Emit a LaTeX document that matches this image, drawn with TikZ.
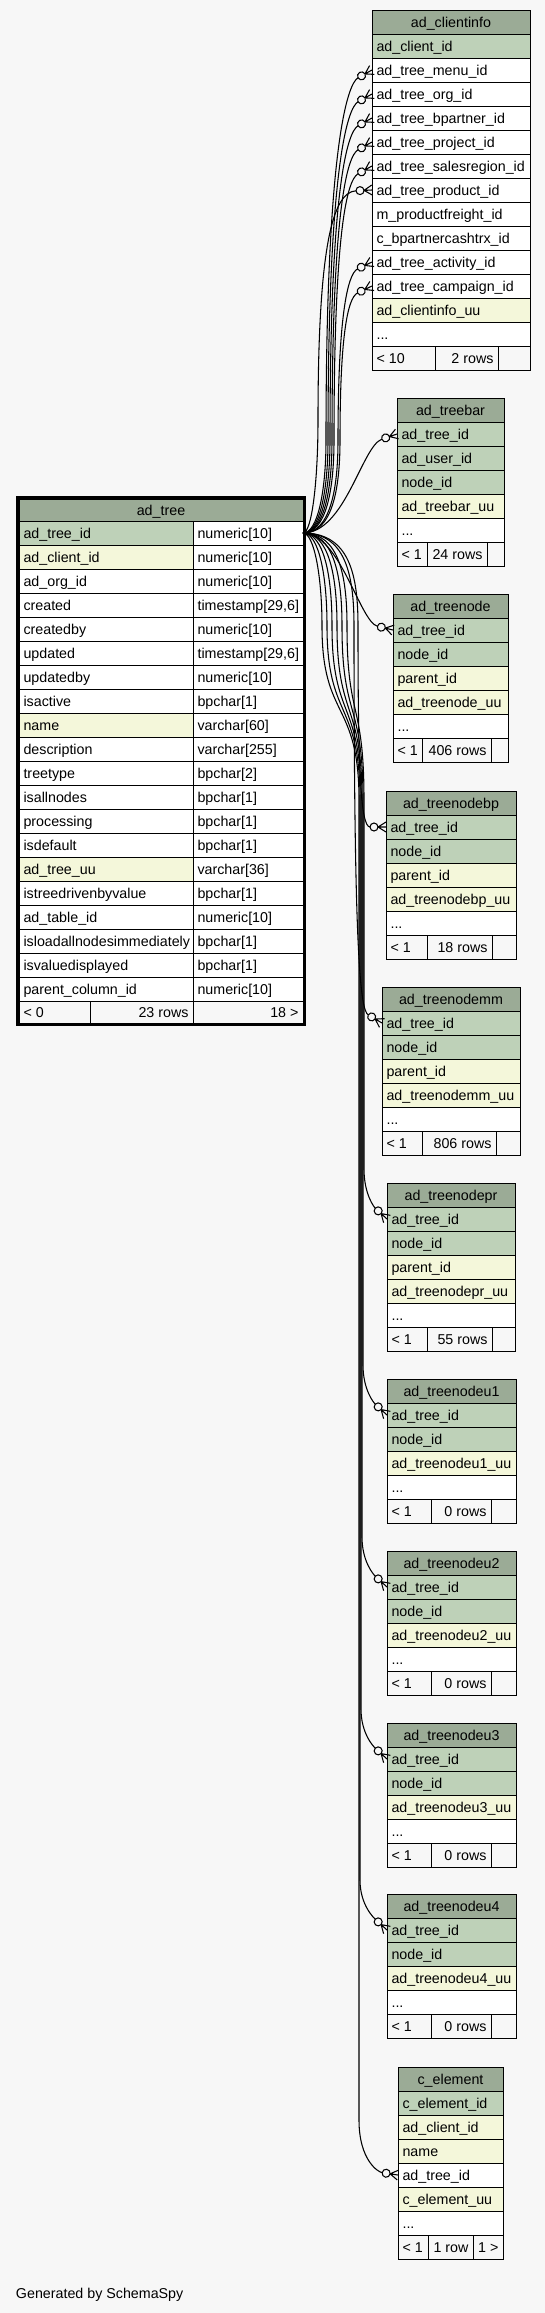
\documentclass[tikz,border=0pt]{standalone}
\usepackage{fontspec}
\setmainfont{Liberation Sans}
\usetikzlibrary{arrows.meta}
\definecolor{bg}{HTML}{F7F7F7}
\definecolor{hdr}{HTML}{9BAB96}
\definecolor{pk}{HTML}{BED1B8}
\definecolor{idx}{HTML}{F4F7DA}
\definecolor{ftr}{HTML}{F7F7F7}
\newcommand\tfont{\fontsize{10.7pt}{12.8pt}\selectfont}
\def\tshwest{3.4pt}\def\tsheast{-3.4pt}\def\tshcenter{0pt}
\pgfdeclarearrow{
  name = CrowODot,
  setup code = {
    \pgfarrowssettipend{0pt}
    \pgfarrowssetlineend{-12pt}
    \pgfarrowssetbackend{-12pt}
    \pgfarrowssetvisualbackend{-12pt}
  },
  drawing code = {
    \pgfsetdash{}{0pt}
    \pgfpathmoveto{\pgfpoint{-6pt}{0pt}}
    \pgfpathlineto{\pgfpoint{0pt}{3.75pt}}
    \pgfpathmoveto{\pgfpoint{-6pt}{0pt}}
    \pgfpathlineto{\pgfpoint{0pt}{0pt}}
    \pgfpathmoveto{\pgfpoint{-6pt}{0pt}}
    \pgfpathlineto{\pgfpoint{0pt}{-3.75pt}}
    \pgfusepathqstroke
    \pgfpathcircle{\pgfpoint{-9pt}{0pt}}{3pt}
    \pgfsetfillcolor{bg}
    \pgfusepathqfillstroke
  },
}
\tikzset{
  cellbox/.style={rectangle, draw=black, line width=0.75pt, inner sep=0pt, outer sep=0pt},
  celltext/.style={font=\tfont, inner sep=0pt, outer sep=0pt, text height=8pt, text depth=0pt, text=black},
  fk/.style={draw=black, line width=0.8pt, -{CrowODot}},
}
\newcommand\tc[8]{%
  \node[cellbox, fill=#6, minimum width={(#4-#2)*0.75pt}, minimum height={(#5-#3)*0.75pt}] (#1) at ({(#2+#4)/2},{(#3+#5)/2}) {};%
  \node[celltext, anchor=#7] (#1-t) at ([xshift=\csname tsh#7\endcsname]#1.#7) {#8};%
}
\newcommand\crow[6]{\tc{#1}{#2}{#4}{#3}{#4+24}{#5}{west}{#6}}
\newcommand\trow[5]{\crow{#1}{19}{193}{#2}{#3}{#4}\crow{#1-ty}{193}{303}{#2}{white}{#5}}
\begin{document}
\begin{tikzpicture}[x=0.75pt,y=-0.75pt]
\fill[bg] (0,0) rectangle (545,2313);
\useasboundingbox (0,0) rectangle (545,2313);

% ---------------- ad_tree
\tc{t-h}{19}{499}{303}{521}{hdr}{center}{ad\_tree}
\trow{t-id}{521}{pk}{ad\_tree\_id}{numeric[10]}
\trow{t-client}{545}{idx}{ad\_client\_id}{numeric[10]}
\trow{t-org}{569}{white}{ad\_org\_id}{numeric[10]}
\trow{t-created}{593}{white}{created}{timestamp[29,6]}
\trow{t-createdby}{617}{white}{createdby}{numeric[10]}
\trow{t-updated}{641}{white}{updated}{timestamp[29,6]}
\trow{t-updatedby}{665}{white}{updatedby}{numeric[10]}
\trow{t-isactive}{689}{white}{isactive}{bpchar[1]}
\trow{t-name}{713}{idx}{name}{varchar[60]}
\trow{t-desc}{737}{white}{description}{varchar[255]}
\trow{t-type}{761}{white}{treetype}{bpchar[2]}
\trow{t-all}{785}{white}{isallnodes}{bpchar[1]}
\trow{t-proc}{809}{white}{processing}{bpchar[1]}
\trow{t-def}{833}{white}{isdefault}{bpchar[1]}
\trow{t-uu}{857}{idx}{ad\_tree\_uu}{varchar[36]}
\trow{t-drv}{881}{white}{istreedrivenbyvalue}{bpchar[1]}
\trow{t-table}{905}{white}{ad\_table\_id}{numeric[10]}
\trow{t-load}{929}{white}{isloadallnodesimmediately}{bpchar[1]}
\trow{t-disp}{953}{white}{isvaluedisplayed}{bpchar[1]}
\trow{t-pcol}{977}{white}{parent\_column\_id}{numeric[10]}
\tc{t-f1}{19}{1001}{90}{1023}{ftr}{west}{< 0}
\tc{t-f2}{90}{1001}{193}{1023}{ftr}{east}{23 rows}
\tc{t-f3}{193}{1001}{303}{1023}{ftr}{east}{18 >}
\draw[line width=2.25pt] (17.5,497.5) rectangle (304.5,1024.5);

% ---------------- ad_clientinfo
\tc{ci-h}{372}{10}{530}{34}{hdr}{center}{ad\_clientinfo}
\crow{ci-client}{372}{530}{34}{pk}{ad\_client\_id}
\crow{ci-menu}{372}{530}{58}{white}{ad\_tree\_menu\_id}
\crow{ci-org}{372}{530}{82}{white}{ad\_tree\_org\_id}
\crow{ci-bp}{372}{530}{106}{white}{ad\_tree\_bpartner\_id}
\crow{ci-proj}{372}{530}{130}{white}{ad\_tree\_project\_id}
\crow{ci-sr}{372}{530}{154}{white}{ad\_tree\_salesregion\_id}
\crow{ci-prod}{372}{530}{178}{white}{ad\_tree\_product\_id}
\crow{ci-mpf}{372}{530}{202}{white}{m\_productfreight\_id}
\crow{ci-cbp}{372}{530}{226}{white}{c\_bpartnercashtrx\_id}
\crow{ci-act}{372}{530}{250}{white}{ad\_tree\_activity\_id}
\crow{ci-camp}{372}{530}{274}{white}{ad\_tree\_campaign\_id}
\crow{ci-uu}{372}{530}{298}{idx}{ad\_clientinfo\_uu}
\crow{ci-dots}{372}{530}{322}{white}{...}
\tc{ci-f1}{372}{346}{435}{370}{ftr}{west}{< 10}
\tc{ci-f2}{435}{346}{498}{370}{ftr}{east}{2 rows}
\tc{ci-f3}{498}{346}{530}{370}{ftr}{west}{}

% ---------------- ad_treebar
\tc{tb-h}{397}{398}{504}{422}{hdr}{center}{ad\_treebar}
\crow{tb-id}{397}{504}{422}{pk}{ad\_tree\_id}
\crow{tb-user}{397}{504}{446}{pk}{ad\_user\_id}
\crow{tb-node}{397}{504}{470}{pk}{node\_id}
\crow{tb-uu}{397}{504}{494}{idx}{ad\_treebar\_uu}
\crow{tb-dots}{397}{504}{518}{white}{...}
\tc{tb-f1}{397}{542}{427}{566}{ftr}{west}{< 1}
\tc{tb-f2}{427}{542}{487}{566}{ftr}{east}{24 rows}
\tc{tb-f3}{487}{542}{504}{566}{ftr}{west}{}

% ---------------- ad_treenode
\tc{tn-h}{393}{594}{508}{618}{hdr}{center}{ad\_treenode}
\crow{tn-id}{393}{508}{618}{pk}{ad\_tree\_id}
\crow{tn-node}{393}{508}{642}{pk}{node\_id}
\crow{tn-par}{393}{508}{666}{idx}{parent\_id}
\crow{tn-uu}{393}{508}{690}{idx}{ad\_treenode\_uu}
\crow{tn-dots}{393}{508}{714}{white}{...}
\tc{tn-f1}{393}{738}{422}{762}{ftr}{west}{< 1}
\tc{tn-f2}{422}{738}{491}{762}{ftr}{east}{406 rows}
\tc{tn-f3}{491}{738}{508}{762}{ftr}{west}{}

% ---------------- ad_treenodebp
\tc{bp-h}{386}{791}{516}{815}{hdr}{center}{ad\_treenodebp}
\crow{bp-id}{386}{516}{815}{pk}{ad\_tree\_id}
\crow{bp-node}{386}{516}{839}{pk}{node\_id}
\crow{bp-par}{386}{516}{863}{idx}{parent\_id}
\crow{bp-uu}{386}{516}{887}{idx}{ad\_treenodebp\_uu}
\crow{bp-dots}{386}{516}{911}{white}{...}
\tc{bp-f1}{386}{935}{427}{959}{ftr}{west}{< 1}
\tc{bp-f2}{427}{935}{492}{959}{ftr}{east}{18 rows}
\tc{bp-f3}{492}{935}{516}{959}{ftr}{west}{}

% ---------------- ad_treenodemm
\tc{mm-h}{382}{987}{520}{1011}{hdr}{center}{ad\_treenodemm}
\crow{mm-id}{382}{520}{1011}{pk}{ad\_tree\_id}
\crow{mm-node}{382}{520}{1035}{pk}{node\_id}
\crow{mm-par}{382}{520}{1059}{idx}{parent\_id}
\crow{mm-uu}{382}{520}{1083}{idx}{ad\_treenodemm\_uu}
\crow{mm-dots}{382}{520}{1107}{white}{...}
\tc{mm-f1}{382}{1131}{422}{1155}{ftr}{west}{< 1}
\tc{mm-f2}{422}{1131}{496}{1155}{ftr}{east}{806 rows}
\tc{mm-f3}{496}{1131}{520}{1155}{ftr}{west}{}

% ---------------- ad_treenodepr
\tc{pr-h}{387}{1183}{515}{1207}{hdr}{center}{ad\_treenodepr}
\crow{pr-id}{387}{515}{1207}{pk}{ad\_tree\_id}
\crow{pr-node}{387}{515}{1231}{pk}{node\_id}
\crow{pr-par}{387}{515}{1255}{idx}{parent\_id}
\crow{pr-uu}{387}{515}{1279}{idx}{ad\_treenodepr\_uu}
\crow{pr-dots}{387}{515}{1303}{white}{...}
\tc{pr-f1}{387}{1327}{427}{1351}{ftr}{west}{< 1}
\tc{pr-f2}{427}{1327}{492}{1351}{ftr}{east}{55 rows}
\tc{pr-f3}{492}{1327}{515}{1351}{ftr}{west}{}

% ---------------- ad_treenodeu1
\tc{u1-h}{387}{1379}{516}{1403}{hdr}{center}{ad\_treenodeu1}
\crow{u1-id}{387}{516}{1403}{pk}{ad\_tree\_id}
\crow{u1-node}{387}{516}{1427}{pk}{node\_id}
\crow{u1-uu}{387}{516}{1451}{idx}{ad\_treenodeu1\_uu}
\crow{u1-dots}{387}{516}{1475}{white}{...}
\tc{u1-f1}{387}{1499}{431}{1523}{ftr}{west}{< 1}
\tc{u1-f2}{431}{1499}{491}{1523}{ftr}{east}{0 rows}
\tc{u1-f3}{491}{1499}{516}{1523}{ftr}{west}{}

% ---------------- ad_treenodeu2
\tc{u2-h}{387}{1551}{516}{1575}{hdr}{center}{ad\_treenodeu2}
\crow{u2-id}{387}{516}{1575}{pk}{ad\_tree\_id}
\crow{u2-node}{387}{516}{1599}{pk}{node\_id}
\crow{u2-uu}{387}{516}{1623}{idx}{ad\_treenodeu2\_uu}
\crow{u2-dots}{387}{516}{1647}{white}{...}
\tc{u2-f1}{387}{1671}{431}{1695}{ftr}{west}{< 1}
\tc{u2-f2}{431}{1671}{491}{1695}{ftr}{east}{0 rows}
\tc{u2-f3}{491}{1671}{516}{1695}{ftr}{west}{}

% ---------------- ad_treenodeu3
\tc{u3-h}{387}{1723}{516}{1747}{hdr}{center}{ad\_treenodeu3}
\crow{u3-id}{387}{516}{1747}{pk}{ad\_tree\_id}
\crow{u3-node}{387}{516}{1771}{pk}{node\_id}
\crow{u3-uu}{387}{516}{1795}{idx}{ad\_treenodeu3\_uu}
\crow{u3-dots}{387}{516}{1819}{white}{...}
\tc{u3-f1}{387}{1843}{431}{1867}{ftr}{west}{< 1}
\tc{u3-f2}{431}{1843}{491}{1867}{ftr}{east}{0 rows}
\tc{u3-f3}{491}{1843}{516}{1867}{ftr}{west}{}

% ---------------- ad_treenodeu4
\tc{u4-h}{387}{1894}{516}{1918}{hdr}{center}{ad\_treenodeu4}
\crow{u4-id}{387}{516}{1918}{pk}{ad\_tree\_id}
\crow{u4-node}{387}{516}{1942}{pk}{node\_id}
\crow{u4-uu}{387}{516}{1966}{idx}{ad\_treenodeu4\_uu}
\crow{u4-dots}{387}{516}{1990}{white}{...}
\tc{u4-f1}{387}{2014}{431}{2038}{ftr}{west}{< 1}
\tc{u4-f2}{431}{2014}{491}{2038}{ftr}{east}{0 rows}
\tc{u4-f3}{491}{2014}{516}{2038}{ftr}{west}{}

% ---------------- c_element
\tc{ce-h}{398}{2067}{503}{2091}{hdr}{center}{c\_element}
\crow{ce-id}{398}{503}{2091}{pk}{c\_element\_id}
\crow{ce-client}{398}{503}{2115}{idx}{ad\_client\_id}
\crow{ce-name}{398}{503}{2139}{idx}{name}
\crow{ce-tree}{398}{503}{2163}{white}{ad\_tree\_id}
\crow{ce-uu}{398}{503}{2187}{idx}{c\_element\_uu}
\crow{ce-dots}{398}{503}{2211}{white}{...}
\tc{ce-f1}{398}{2235}{428}{2259}{ftr}{west}{< 1}
\tc{ce-f2}{428}{2235}{473}{2259}{ftr}{east}{1 row}
\tc{ce-f3}{473}{2235}{503}{2259}{ftr}{east}{1 >}

\node[celltext, anchor=west] (gen) at (16,2293) {Generated by SchemaSpy};

% ---------------- connectors (upward)
\draw[fk] (t-id-ty.east) .. controls (318,533) and (326,490) .. (326,440) .. controls (326,150) and (347,84) .. (ci-menu.west);
\draw[fk] (t-id-ty.east) .. controls (320,533) and (328,490) .. (328,440) .. controls (328,170) and (347,108) .. (ci-org.west);
\draw[fk] (t-id-ty.east) .. controls (322,533) and (330,490) .. (330,440) .. controls (330,190) and (347,132) .. (ci-bp.west);
\draw[fk] (t-id-ty.east) .. controls (324,533) and (332,490) .. (332,440) .. controls (332,210) and (347,156) .. (ci-proj.west);
\draw[fk] (t-id-ty.east) .. controls (326,533) and (334,490) .. (334,440) .. controls (334,230) and (347,180) .. (ci-sr.west);
\draw[fk] (t-id-ty.east) .. controls (312,533) and (318,480) .. (318,420) .. controls (318,250) and (332,192) .. (ci-prod.west);
\draw[fk] (t-id-ty.east) .. controls (330,533) and (338,490) .. (338,440) .. controls (338,320) and (347,274) .. (ci-act.west);
\draw[fk] (t-id-ty.east) .. controls (332,533) and (340,490) .. (340,440) .. controls (340,340) and (347,298) .. (ci-camp.west);
\draw[fk] (t-id-ty.east) .. controls (345,533) and (362,446) .. (tb-id.west);
% ---------------- connectors (downward)
\draw[fk] (t-id-ty.east) .. controls (340,533) and (360,622) .. (tn-id.west);
\draw[fk] (t-id-ty.east) .. controls (350,533) and (358,576) .. (358,626) .. controls (358,760) and (360,827) .. (bp-id.west);
\draw[fk] (t-id-ty.east) .. controls (346,533) and (354,576) .. (354,626) .. controls (354,950) and (360,1010) .. (mm-id.west);
\draw[fk] (t-id-ty.east) .. controls (339,533) and (347,576) .. (347,626) .. controls (347,720) and (364,700) .. (364,800) -- (364,1169) .. controls (364,1194) and (374,1207) .. (pr-id.west);
\draw[fk] (t-id-ty.east) .. controls (334,533) and (342,576) .. (342,626) .. controls (342,720) and (363,700) .. (363,800) -- (363,1365) .. controls (363,1390) and (374,1403) .. (u1-id.west);
\draw[fk] (t-id-ty.east) .. controls (329,533) and (337,576) .. (337,626) .. controls (337,720) and (362,700) .. (362,800) -- (362,1537) .. controls (362,1562) and (374,1575) .. (u2-id.west);
\draw[fk] (t-id-ty.east) .. controls (324,533) and (332,576) .. (332,626) .. controls (332,720) and (361,700) .. (361,800) -- (361,1709) .. controls (361,1734) and (374,1747) .. (u3-id.west);
\draw[fk] (t-id-ty.east) .. controls (319,533) and (327,576) .. (327,626) .. controls (327,720) and (360,700) .. (360,800) -- (360,1880) .. controls (360,1905) and (374,1918) .. (u4-id.west);
\draw[fk] (t-id-ty.east) .. controls (314,533) and (322,576) .. (322,626) .. controls (322,720) and (359,700) .. (359,800) -- (359,2120) .. controls (359,2160) and (378,2172) .. (ce-tree.west);
\end{tikzpicture}
\end{document}
